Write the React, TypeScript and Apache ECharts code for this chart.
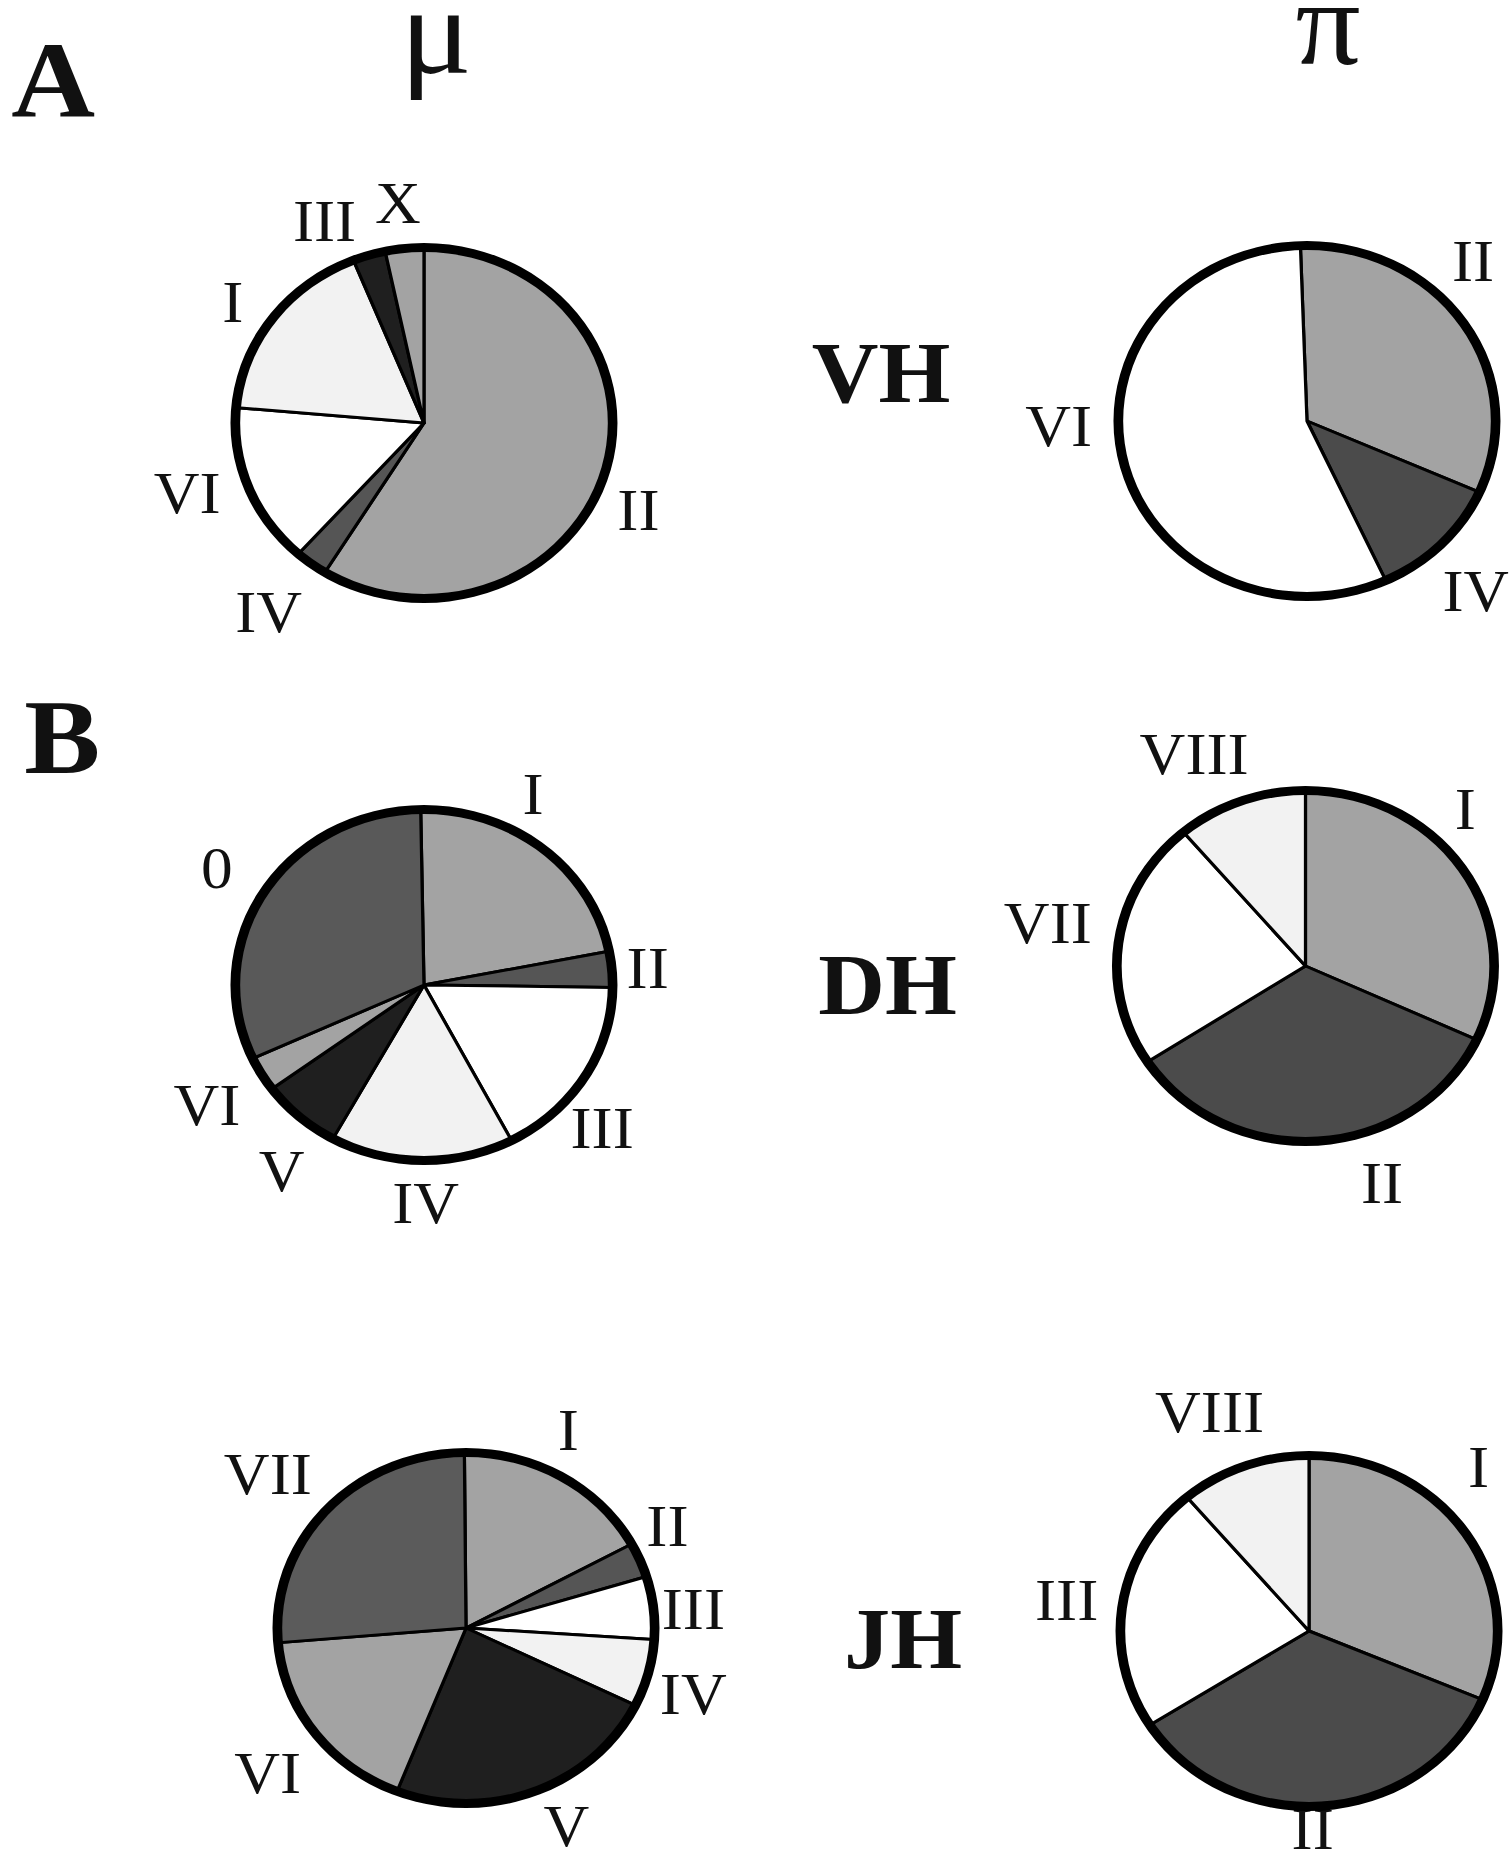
import React, { useEffect, useRef } from "react";
import * as echarts from "echarts";

// ---------- data ----------
// Panel A (VH), μ column
const vhMuNames = ["II", "IV", "VI", "I", "III", "X"];
const vhMuValues = [58.8, 2.8, 14.8, 17.5, 2.8, 3.3];
// Panel A (VH), π column
const vhPiNames = ["II", "IV", "VI"];
const vhPiValues = [32.2, 11.5, 56.3];
// Panel B (DH), μ column
const dhMuNames = ["I", "II", "III", "IV", "V", "VI", "0"];
const dhMuValues = [22.2, 3.3, 17.1, 15.7, 6.9, 3.2, 31.6];
// Panel B (DH), π column
const dhPiNames = ["I", "II", "VII", "VIII"];
const dhPiValues = [31.9, 33.9, 23.0, 11.2];
// Panel B (JH), μ column
const jhMuNames = ["I", "II", "III", "IV", "V", "VI", "VII"];
const jhMuValues = [17.2, 3.2, 5.8, 6.2, 23.7, 17.7, 26.2];
// Panel B (JH), π column
const jhPiNames = ["I", "II", "III", "VIII"];
const jhPiValues = [31.4, 34.6, 22.8, 11.2];

const panelLetters = ["A", "B"];
const columnHeads = ["μ", "π"];
const rowHeads = ["VH", "DH", "JH"];

// ---------- styles ----------
const GRAY = "#a3a3a3";
const DARK = "#555555";
const DARK2 = "#4b4b4b";
const BLACK = "#1f1f1f";
const WHITE = "#ffffff";
const LIGHT = "#f2f2f2";

const vhMuColors = [GRAY, DARK, WHITE, LIGHT, BLACK, GRAY];
const vhPiColors = [GRAY, DARK2, WHITE];
const dhMuColors = [GRAY, DARK, WHITE, LIGHT, BLACK, GRAY, "#595959"];
const dhPiColors = [GRAY, DARK2, WHITE, LIGHT];
const jhMuColors = [GRAY, DARK, WHITE, LIGHT, BLACK, GRAY, "#5b5b5b"];
const jhPiColors = [GRAY, DARK2, WHITE, LIGHT];

// ---------- layout ----------
const SX = 1.075; // the figure is stretched horizontally
const CHART_W = 1403;
const CHART_H = 1863;
const SERIF = "Liberation Serif";
const LABEL_R = 225;
const SLICE_R = 174;
const RING = [171, 180];

const pies = [
  { names: vhMuNames, values: vhMuValues, colors: vhMuColors, cx: 394.4, cy: 423, start: 90,
    nudges: [[-17, 25], [-10, 8], [-11, -13], [3, 13], [-27, 13], [-1, 4]] },
  { names: vhPiNames, values: vhPiValues, colors: vhPiColors, cx: 1215.8, cy: 421, start: 92,
    nudges: [[-32, -34], [-3, 12], [-12, -47]] },
  { names: dhMuNames, values: dhMuValues, colors: dhMuColors, cx: 394.4, cy: 985, start: 91,
    nudges: [[-40, -16], [-16, 3], [-26, 25], [4, -7], [16, 17], [-8, 6], [-2, 2]] },
  { names: dhPiNames, values: dhPiValues, colors: dhPiColors, cx: 1214.4, cy: 966, start: 90,
    nudges: [[-41, -36], [55, -8], [-17, -11], [-26, -1]] },
  { names: jhMuNames, values: jhMuValues, colors: jhMuColors, cx: 433.5, cy: 1628, start: 90.5,
    nudges: [[-19, -4], [-20, -15], [-12, 7], [-6, 8], [12, -12], [-4, 10], [-18, -3]] },
  { names: jhPiNames, values: jhPiValues, colors: jhPiColors, cx: 1217.7, cy: 1631, start: 90,
    nudges: [[-30, -40], [-15, -26], [-3, 3], [-15, -8]] },
];

const letterPos = [[49.5, 80], [58, 737]];
const letterSize = [108, 106];
const columnPos = [[405.6, 30.5], [1235.3, 24]];
const columnSize = [125, 120];
const rowPos = [[819.5, 373], [825.6, 984.5], [840, 1638.5]];
const rowSize = 86;
const labelSize = 59;

function textEl(text: string, x: number, y: number, size: number, weight: string) {
  return {
    type: "text",
    silent: true,
    x,
    y,
    style: {
      text,
      fontSize: size,
      fontFamily: SERIF,
      fontWeight: weight,
      fill: "#111",
      textAlign: "center",
      textVerticalAlign: "middle",
    },
  };
}

export default function App() {
  const ref = useRef<HTMLDivElement>(null);

  useEffect(() => {
    if (!ref.current) return;
    const chart = echarts.init(ref.current, null, { renderer: "svg" });
    const series: any[] = [];
    const graphics: any[] = [];

    pies.forEach((p, i) => {
      series.push({
        type: "pie",
        name: "pie" + i,
        center: [p.cx, p.cy],
        radius: [0, SLICE_R],
        startAngle: p.start,
        clockwise: true,
        silent: true,
        avoidLabelOverlap: false,
        label: { show: false },
        labelLine: { show: false },
        emphasis: { disabled: true },
        itemStyle: { borderColor: "#000", borderWidth: 3 },
        data: p.names.map((n, j) => ({
          name: n,
          value: p.values[j],
          itemStyle: { color: p.colors[j] },
        })),
        z: 2,
      });
      series.push({
        type: "pie",
        name: "ring" + i,
        center: [p.cx, p.cy],
        radius: RING,
        silent: true,
        label: { show: false },
        labelLine: { show: false },
        emphasis: { disabled: true },
        itemStyle: { color: "#000", borderWidth: 0 },
        data: [{ name: "", value: 1 }],
        z: 3,
      });
      const total = p.values.reduce((a, b) => a + b, 0);
      const off = 90 - p.start;
      let cum = 0;
      p.names.forEach((n, j) => {
        const mid = off + ((cum + p.values[j] / 2) / total) * 360;
        cum += p.values[j];
        const rad = (mid * Math.PI) / 180;
        graphics.push(
          textEl(
            n,
            p.cx + LABEL_R * Math.sin(rad) + p.nudges[j][0],
            p.cy - LABEL_R * Math.cos(rad) + p.nudges[j][1],
            labelSize,
            "normal"
          )
        );
      });
    });

    panelLetters.forEach((t, i) => {
      graphics.push(textEl(t, letterPos[i][0], letterPos[i][1], letterSize[i], "bold"));
    });
    columnHeads.forEach((t, i) => {
      graphics.push(textEl(t, columnPos[i][0], columnPos[i][1], columnSize[i], "normal"));
    });
    rowHeads.forEach((t, i) => {
      graphics.push(textEl(t, rowPos[i][0], rowPos[i][1], rowSize, "bold"));
    });

    chart.setOption({
      animation: false,
      backgroundColor: "#ffffff",
      series,
      graphic: { elements: graphics },
    });
    return () => chart.dispose();
  }, []);

  return (
    <div
      ref={ref}
      style={{
        position: "absolute",
        left: 0,
        top: 0,
        width: CHART_W,
        height: CHART_H,
        transform: `scaleX(${SX})`,
        transformOrigin: "0 0",
        background: "#fff",
      }}
    />
  );
}
